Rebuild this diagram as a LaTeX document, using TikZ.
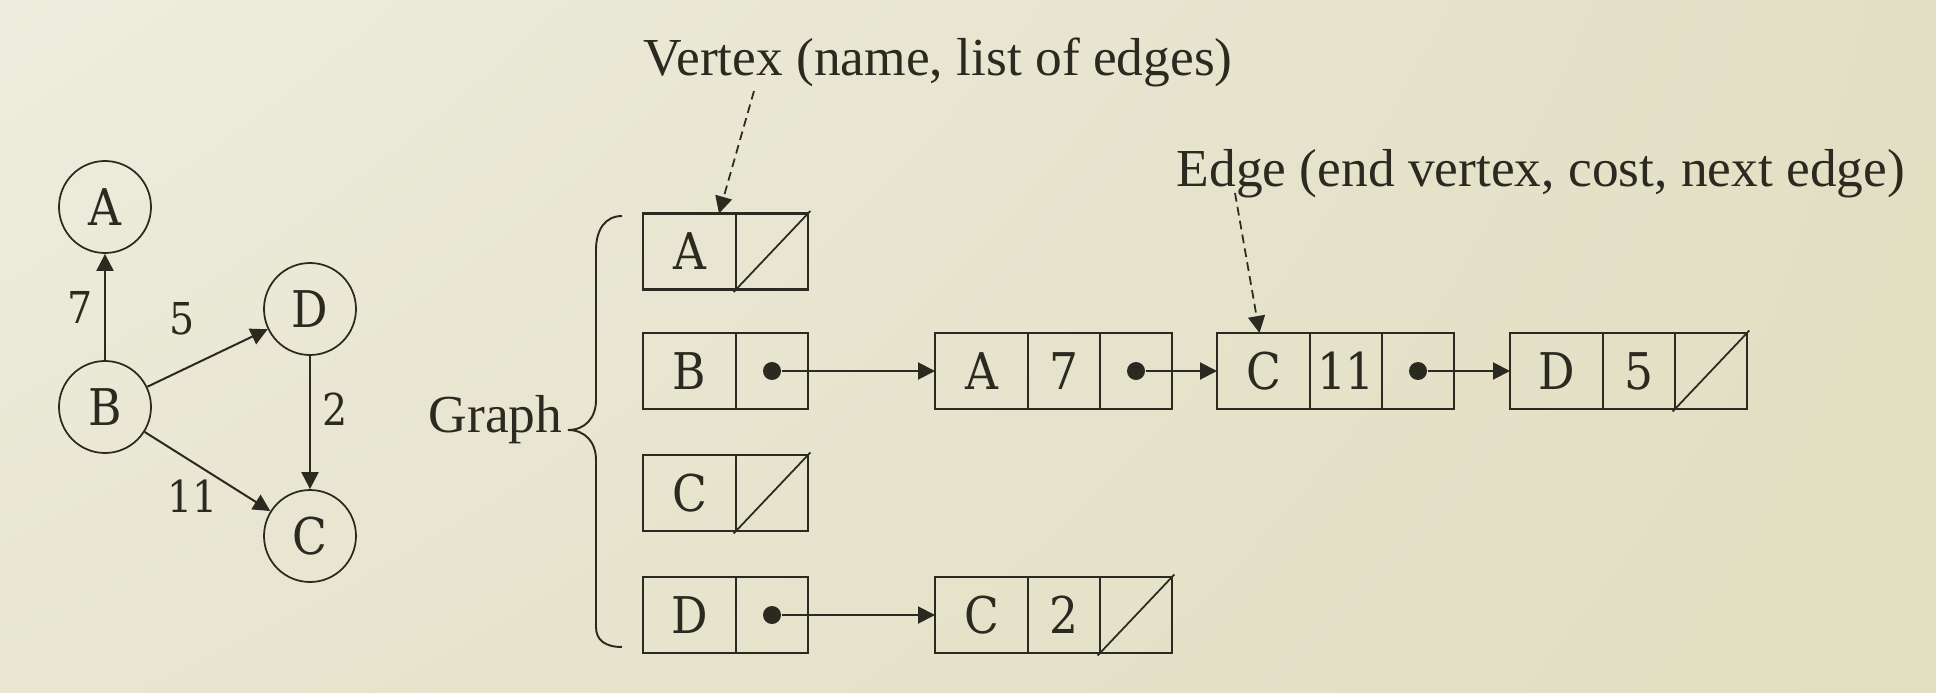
\documentclass[tikz,border=0pt]{standalone}
\usepackage{fontspec}
\setmainfont{Liberation Serif}
\newfontfamily\cellfont[FakeStretch=0.9]{DejaVu Serif}
\usepackage{tikz}
\usetikzlibrary{arrows.meta, positioning, shadings}
\definecolor{ink}{HTML}{2B2A20}
\definecolor{bgtl}{RGB}{238,237,223}
\definecolor{bgtr}{RGB}{226,223,196}
\definecolor{bgbl}{RGB}{232,230,209}
\definecolor{bgbr}{RGB}{225,222,193}

\begin{document}
\begin{tikzpicture}[
		vertex/.style={circle, draw, line width=0.5pt, minimum size=0.92cm, inner sep=0pt, font=\cellfont\fontsize{14.4}{16}\selectfont},
		weight/.style={font=\cellfont\fontsize{12.5}{14}\selectfont},
		boxcell/.style={rectangle, draw, line width=0.65pt, minimum height=0.76cm, inner sep=0pt, outer sep=0pt, font=\cellfont\fontsize{14.4}{16}\selectfont},
		keycell/.style={boxcell, minimum width=0.93cm},
		ptrcell/.style={boxcell, minimum width=0.72cm},
		ptrdot/.style={circle, fill, inner sep=0pt, minimum size=0.18cm},
		caption/.style={inner sep=0pt, font=\fontsize{15.2}{18}\selectfont},
		link/.style={->, line width=0.57pt},
		nil/.style={line width=0.5pt, shorten <=-1pt, shorten >=-1pt},
		color=ink, >={Triangle[length=1.7mm, width=1.7mm]}
		]
	
		% fond
		\useasboundingbox (0,0) rectangle (19.36,6.92);
		\shade[upper left=bgtl, upper right=bgtr, lower left=bgbl, lower right=bgbr] (0,0) rectangle (19.36,6.92);
	
		% le graphe
		\node[vertex] (A) at (1.05, 4.85) {A};
		\node[vertex] (B) at (1.05, 2.85) {B};
		\node[vertex] (D) at (3.10, 3.83) {D};
		\node[vertex] (C) at (3.10, 1.56) {C};
	
		\draw[link] (B) -- (A) node[midway, left, weight] {7};
		\draw[link] (B) -- (D) node[midway, above left, weight, yshift=3pt] {5};
		\draw[link] (D) -- (C) node[pos=0.4, right, weight] {2};
		\draw[link] (B) -- (C) node[pos=0.38, below, weight, yshift=-1.5pt] {11};
	
		% liste des sommets
		\node[keycell] (vA) at (6.895, 4.405) {A};
		\node[ptrcell, right=0pt of vA] (vAp) {};
		\node[keycell] (vB) at (6.895, 3.21) {B};
		\node[ptrcell, right=0pt of vB] (vBp) {};
		\node[keycell] (vC) at (6.895, 1.99) {C};
		\node[ptrcell, right=0pt of vC] (vCp) {};
		\node[keycell] (vD) at (6.895, 0.77) {D};
		\node[ptrcell, right=0pt of vD] (vDp) {};
	
		% aretes de B
		\node[keycell] (eA) at (9.815, 3.21) {A};
		\node[ptrcell, right=0pt of eA] (eAw) {7};
		\node[ptrcell, right=0pt of eAw] (eAn) {};
		\node[keycell] (eC) at (12.635, 3.21) {C};
		\node[ptrcell, right=0pt of eC] (eCw) {11};
		\node[ptrcell, right=0pt of eCw] (eCn) {};
		\node[keycell] (eD) at (15.565, 3.21) {D};
		\node[ptrcell, right=0pt of eD] (eDw) {5};
		\node[ptrcell, right=0pt of eDw] (eDn) {};
	
		% arete de D
		\node[keycell] (fC) at (9.815, 0.77) {C};
		\node[ptrcell, right=0pt of fC] (fCw) {2};
		\node[ptrcell, right=0pt of fCw] (fCn) {};
	
		% pointeurs
		\node[ptrdot] (dB) at (vBp) {};
		\node[ptrdot] (dD) at (vDp) {};
		\node[ptrdot] (dA) at (eAn) {};
		\node[ptrdot] (dC) at (eCn) {};
		\draw[link] (dB) -- (eA);
		\draw[link] (dA) -- (eC);
		\draw[link] (dC) -- (eD);
		\draw[link] (dD) -- (fC);
	
		% pointeurs nuls
		\draw[nil] (vAp.south west) -- (vAp.north east);
		\draw[nil] (vCp.south west) -- (vCp.north east);
		\draw[nil] (eDn.south west) -- (eDn.north east);
		\draw[nil] (fCn.south west) -- (fCn.north east);
	
		% accolade
		\draw[line width=0.55pt] (6.22,4.76) .. controls (6.05,4.76) and (5.96,4.62) .. (5.96,4.42)
			-- (5.96,2.92) .. controls (5.96,2.74) and (5.85,2.62) .. (5.68,2.62)
			.. controls (5.85,2.62) and (5.96,2.50) .. (5.96,2.32)
			-- (5.96,0.65) .. controls (5.96,0.52) and (6.05,0.45) .. (6.22,0.45);
		\node[caption, anchor=base east] (glabel) at (5.63, 2.60) {Graph};
	
		% legendes
		\node[caption, anchor=base west] (vlabel) at (6.43, 6.17) {Vertex (name, list of edges)};
		\node[caption, anchor=base west] (elabel) at (11.76, 5.06) {Edge (end vertex, cost, next edge)};
		\coordinate (vfrom) at (7.54, 6.01);
		\coordinate (efrom) at (12.35, 4.99);
		\draw[link, dash pattern=on 2.5pt off 1.5pt, line width=0.5pt] (vfrom) -- ([xshift=-0.17cm]vA.north east);
		\draw[link, dash pattern=on 2.5pt off 1.5pt, line width=0.5pt] (efrom) -- ([xshift=-0.04cm]eC.north);
	\end{tikzpicture}
\end{document}
